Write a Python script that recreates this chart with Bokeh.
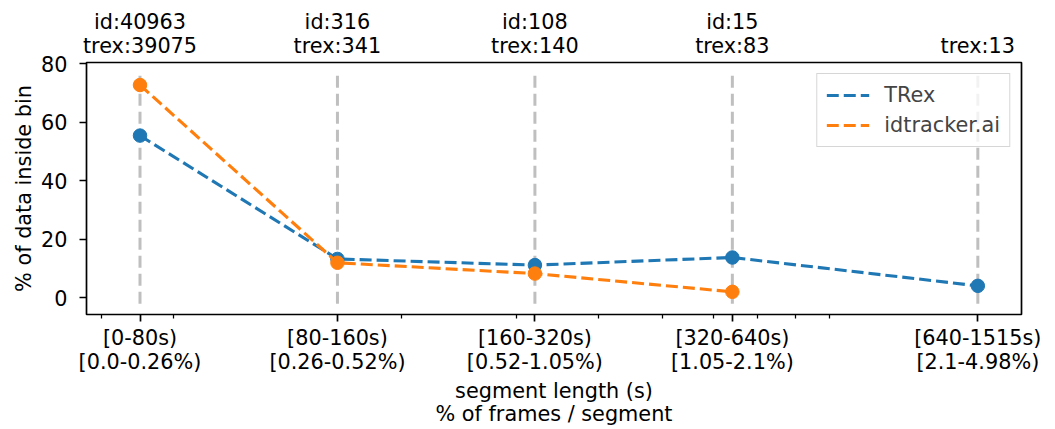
from bokeh.plotting import figure
from bokeh.models import FixedTicker, LogAxis, Legend, LegendItem, Range1d
from bokeh.embed import file_html
from bokeh.resources import INLINE

# ---- data ----
bin_right_edges = [80, 160, 320, 640, 1515]
bin_labels = ["[0-80s)\n[0.0-0.26%)", "[80-160s)\n[0.26-0.52%)", "[160-320s)\n[0.52-1.05%)",
              "[320-640s)\n[1.05-2.1%)", "[640-1515s)\n[2.1-4.98%)"]
top_labels = ["id:40963\ntrex:39075", "id:316\ntrex:341", "id:108\ntrex:140",
              "id:15\ntrex:83", "trex:13"]
trex_pct = [55.5, 13.3, 11.2, 13.8, 4.1]
idtracker_pct = [72.8, 12.0, 8.3, 2.05]
minor_tick_values = [70, 90, 200, 300, 400, 500, 600, 700, 800, 900]
vline_low, vline_high = -2.0, 76.4

FONT = "DejaVu Sans"
FS = "20.8px"
BLUE = "#1f77b4"
ORANGE = "#ff7f0e"

p = figure(width=1055, height=429, x_axis_type="log", output_backend="svg",
           toolbar_location=None, x_range=Range1d(66.3, 1766), y_range=Range1d(-5.7, 80.5),
           min_border_left=86, min_border_right=34, min_border_top=62, min_border_bottom=115)
p.background_fill_color = "white"
p.border_fill_color = "white"
p.xgrid.visible = False
p.ygrid.visible = False
p.outline_line_color = "black"
p.outline_line_width = 1.7

# vertical dashed guide lines
p.segment(x0=bin_right_edges, y0=[vline_low] * 5, x1=bin_right_edges, y1=[vline_high] * 5,
          line_color="gray", line_alpha=0.5, line_width=3, line_dash="12 6")

r1 = p.line(bin_right_edges, trex_pct, line_color=BLUE, line_width=3.1, line_dash="12 5")
p.scatter(bin_right_edges, trex_pct, size=13.5, fill_color=BLUE, line_color=BLUE)
r2 = p.line(bin_right_edges[:4], idtracker_pct, line_color=ORANGE, line_width=3.1, line_dash="12 5")
p.scatter(bin_right_edges[:4], idtracker_pct, size=13.5, fill_color=ORANGE, line_color=ORANGE)

# bottom axis
xa = p.xaxis[0]
xa.ticker = FixedTicker(ticks=bin_right_edges, minor_ticks=minor_tick_values)
xa.major_label_overrides = {v: t for v, t in zip(bin_right_edges, bin_labels)}
xa.axis_label = "segment length (s)\n% of frames / segment"

# left axis
ya = p.yaxis[0]
ya.ticker = FixedTicker(ticks=[0, 20, 40, 60, 80], minor_ticks=[])
ya.axis_label = "% of data inside bin"

for ax in (xa, ya):
    ax.axis_line_color = None
    ax.major_tick_line_color = "black"
    ax.major_tick_line_width = 1.7
    ax.major_tick_out = 7
    ax.major_tick_in = 0
    ax.minor_tick_line_color = "black"
    ax.minor_tick_line_width = 1.25
    ax.minor_tick_out = 4
    ax.minor_tick_in = 0
    ax.major_label_text_font = FONT
    ax.major_label_text_font_size = FS
    ax.major_label_text_color = "black"
    ax.major_label_text_line_height = 1.0
    ax.axis_label_text_font = FONT
    ax.axis_label_text_font_size = FS
    ax.axis_label_text_font_style = "normal"
    ax.axis_label_text_color = "black"
    ax.axis_label_text_line_height = 0.97
ya.minor_tick_line_color = None
xa.major_label_standoff = 4
xa.axis_label_standoff = 2
ya.major_label_standoff = 12
ya.axis_label_standoff = 2

# top axis with counts
top = LogAxis(ticker=FixedTicker(ticks=bin_right_edges, minor_ticks=[]),
              major_label_overrides={v: t for v, t in zip(bin_right_edges, top_labels)})
top.axis_line_color = None
top.major_tick_line_color = None
top.minor_tick_line_color = None
top.major_tick_out = 0
top.major_label_text_font = FONT
top.major_label_text_font_size = FS
top.major_label_text_color = "black"
top.major_label_text_line_height = 1.0
top.major_label_standoff = 5
p.add_layout(top, "above")

legend = Legend(items=[LegendItem(label="TRex", renderers=[r1]),
                       LegendItem(label="idtracker.ai", renderers=[r2])],
                location="top_right", margin=11, padding=9, spacing=6,
                glyph_width=43, glyph_height=24, label_height=24, label_standoff=15,
                label_text_font=FONT, label_text_font_size=FS,
                border_line_color="#cccccc", border_line_alpha=0.8, border_line_width=1.5,
                background_fill_alpha=0.8)
p.add_layout(legend)

open("out.html", "w").write(file_html(p, INLINE))
